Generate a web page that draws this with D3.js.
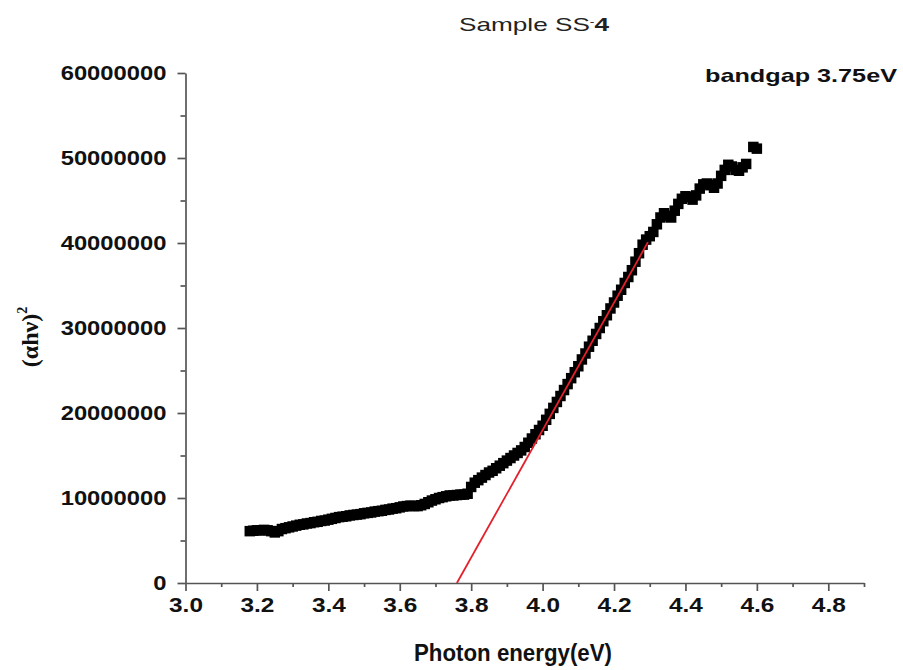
<!DOCTYPE html>
<html>
<head>
<meta charset="utf-8">
<script src="https://cdn.jsdelivr.net/npm/d3@7"></script>
<style>
  body { margin: 0; background: #fff; }
  svg { display: block; }
</style>
</head>
<body>
<div id="chart"></div>
<script>
// photon energy (eV) and (alpha h nu)^2 in millions
var energy = [3.18,3.19,3.20,3.21,3.22,3.23,3.24,3.25,3.26,3.27,3.28,3.29,3.30,3.31,3.32,3.33,3.34,3.35,3.36,3.37,3.38,3.39,
  3.40,3.41,3.42,3.43,3.44,3.45,3.46,3.47,3.48,3.49,3.50,3.51,3.52,3.53,3.54,3.55,3.56,3.57,3.58,3.59,
  3.60,3.61,3.62,3.63,3.64,3.65,3.66,3.67,3.68,3.69,3.70,3.71,3.72,3.73,3.74,3.75,3.76,3.77,3.78,3.79,
  3.80,3.81,3.82,3.83,3.84,3.85,3.86,3.87,3.88,3.89,3.90,3.91,3.92,3.93,3.94,3.95,3.96,3.97,3.98,3.99,
  4.00,4.01,4.02,4.03,4.04,4.05,4.06,4.07,4.08,4.09,4.10,4.11,4.12,4.13,4.14,4.15,4.16,4.17,4.18,4.19,
  4.20,4.21,4.22,4.23,4.24,4.25,4.26,4.27,4.28,4.29,4.30,4.31,4.32,4.33,4.34,4.35,4.36,4.37,4.38,4.39,
  4.40,4.41,4.42,4.43,4.44,4.45,4.46,4.47,4.48,4.49,4.50,4.51,4.52,4.53,4.54,4.55,4.56,4.57,4.59,4.60];
var absorb = [6.1,6.15,6.2,6.2,6.25,6.2,6.1,5.95,6.1,6.35,6.45,6.55,6.65,6.75,6.85,6.9,7.0,7.05,7.15,7.2,7.3,7.35,
  7.45,7.55,7.65,7.75,7.8,7.85,7.95,8.0,8.05,8.1,8.2,8.25,8.3,8.4,8.45,8.5,8.6,8.65,8.75,8.8,
  8.9,9.0,9.05,9.1,9.05,9.05,9.15,9.3,9.5,9.7,9.85,10.0,10.1,10.2,10.3,10.3,10.35,10.4,10.4,10.5,
  11.3,11.8,12.1,12.4,12.7,13.0,13.2,13.5,13.8,14.1,14.4,14.7,15.0,15.3,15.6,16.0,16.5,17.0,17.5,18.0,
  18.5,19.2,19.9,20.6,21.3,22.0,22.7,23.4,24.1,24.8,25.5,26.3,27.0,27.8,28.5,29.3,30.0,30.8,31.5,32.3,
  33.0,33.8,34.5,35.3,36.0,36.8,37.8,38.8,39.8,40.4,40.8,41.3,42.2,43.0,43.5,43.2,43.0,43.8,44.6,45.2,
  45.5,45.4,45.1,45.6,46.4,46.9,47.0,46.8,46.5,47.0,47.9,48.6,49.2,49.0,48.6,48.5,48.9,49.3,51.3,51.1];

// tangent line used for the bandgap
var fitX = [3.76, 4.295];
var fitY = [0, 40100000];

var xTicks = [3.0,3.2,3.4,3.6,3.8,4.0,4.2,4.4,4.6,4.8];
var xMinor = [3.1,3.3,3.5,3.7,3.9,4.1,4.3,4.5,4.7,4.9];
var yTicks = [0,10000000,20000000,30000000,40000000,50000000,60000000];
var yMinor = [5000000,15000000,25000000,35000000,45000000,55000000];

var W = 903, H = 670;
var stretch = 1.22;

var svg = d3.select("#chart").append("svg")
    .attr("width", W)
    .attr("height", H);

var x = d3.scaleLinear().domain([3.0, 4.9]).range([185.5, 864]);
var y = d3.scaleLinear().domain([0, 60000000]).range([583, 73]);

function widen(sel, f) {
    sel.each(function() {
        var len = this.getComputedTextLength();
        d3.select(this).attr("textLength", len * f).attr("lengthAdjust", "spacingAndGlyphs");
    });
}

// minor ticks first, then main axes on top
svg.append("g")
    .attr("transform", "translate(0,583)")
    .call(d3.axisBottom(x).tickValues(xMinor).tickSize(4).tickSizeOuter(0).tickFormat(""))
    .call(g => g.select(".domain").remove());

svg.append("g")
    .attr("transform", "translate(185.5,0)")
    .call(d3.axisLeft(y).tickValues(yMinor).tickSize(5).tickSizeOuter(0).tickFormat(""))
    .call(g => g.select(".domain").remove());

var xAxis = svg.append("g")
    .attr("transform", "translate(0,583)")
    .call(d3.axisBottom(x).tickValues(xTicks).tickSize(8).tickPadding(7).tickSizeOuter(0).tickFormat(d3.format(".1f")));

var yAxis = svg.append("g")
    .attr("transform", "translate(185.5,0)")
    .call(d3.axisLeft(y).tickValues(yTicks).tickSize(8).tickPadding(11).tickSizeOuter(0).tickFormat(d3.format("d")));

svg.selectAll(".tick line, .domain")
    .attr("stroke", "#555")
    .attr("stroke-width", 1.7);

xAxis.selectAll("text").style("font-size", "20px");
yAxis.selectAll("text").style("font-size", "19.5px");
[xAxis, yAxis].forEach(function(a) {
    a.selectAll("text")
        .attr("fill", "#111")
        .style("font-family", "'Liberation Sans', Arial, sans-serif")
        .style("font-weight", "bold");
    widen(a.selectAll("text"), stretch);
});

// data points
var pts = energy.map((e, i) => ({e: e, v: absorb[i] * 1000000}));
var square = d3.symbol().type(d3.symbolSquare).size(110);

svg.append("g")
    .selectAll("path")
    .data(pts)
    .join("path")
    .attr("transform", d => `translate(${x(d.e)},${y(d.v)})`)
    .attr("d", square)
    .attr("fill", "#000");

// red fit line
var line = d3.line()
    .x(d => x(d[0]))
    .y(d => y(d[1]));

svg.append("path")
    .attr("d", line(fitX.map((v, i) => [v, fitY[i]])))
    .attr("fill", "none")
    .attr("stroke", "#e3202c")
    .attr("stroke-width", 1.8);

// titles and labels
var title = svg.append("text")
    .attr("x", 534)
    .attr("y", 31)
    .attr("text-anchor", "middle")
    .style("font-family", "'Liberation Sans', Arial, sans-serif")
    .style("font-size", "19px")
    .attr("fill", "#222");
title.append("tspan").text("Sample SS");
title.append("tspan").text("-").style("font-size", "10px").attr("dy", -6);
title.append("tspan").text("4").attr("dy", 6).style("font-weight", "bold");
title.attr("textLength", 150).attr("lengthAdjust", "spacingAndGlyphs");

svg.append("text")
    .attr("x", 897)
    .attr("y", 82)
    .attr("text-anchor", "end")
    .style("font-family", "'Liberation Sans', Arial, sans-serif")
    .style("font-weight", "bold")
    .style("font-size", "19px")
    .attr("fill", "#111")
    .attr("textLength", 192)
    .attr("lengthAdjust", "spacingAndGlyphs")
    .text("bandgap 3.75eV");

svg.append("text")
    .attr("x", 513)
    .attr("y", 661)
    .attr("text-anchor", "middle")
    .style("font-family", "'Liberation Sans', Arial, sans-serif")
    .style("font-weight", "bold")
    .style("font-size", "23px")
    .attr("fill", "#111")
    .attr("textLength", 198)
    .attr("lengthAdjust", "spacingAndGlyphs")
    .text("Photon energy(eV)");

var ylab = svg.append("text")
    .attr("transform", "translate(38,337) rotate(-90)")
    .attr("text-anchor", "middle")
    .style("font-family", "'Liberation Serif', 'Times New Roman', serif")
    .style("font-weight", "bold")
    .style("font-size", "24px")
    .attr("fill", "#111");
ylab.append("tspan").text("(\u03b1h\u03bd)");
ylab.append("tspan").text("2").style("font-size", "14px").attr("dy", -11);
</script>
</body>
</html>
